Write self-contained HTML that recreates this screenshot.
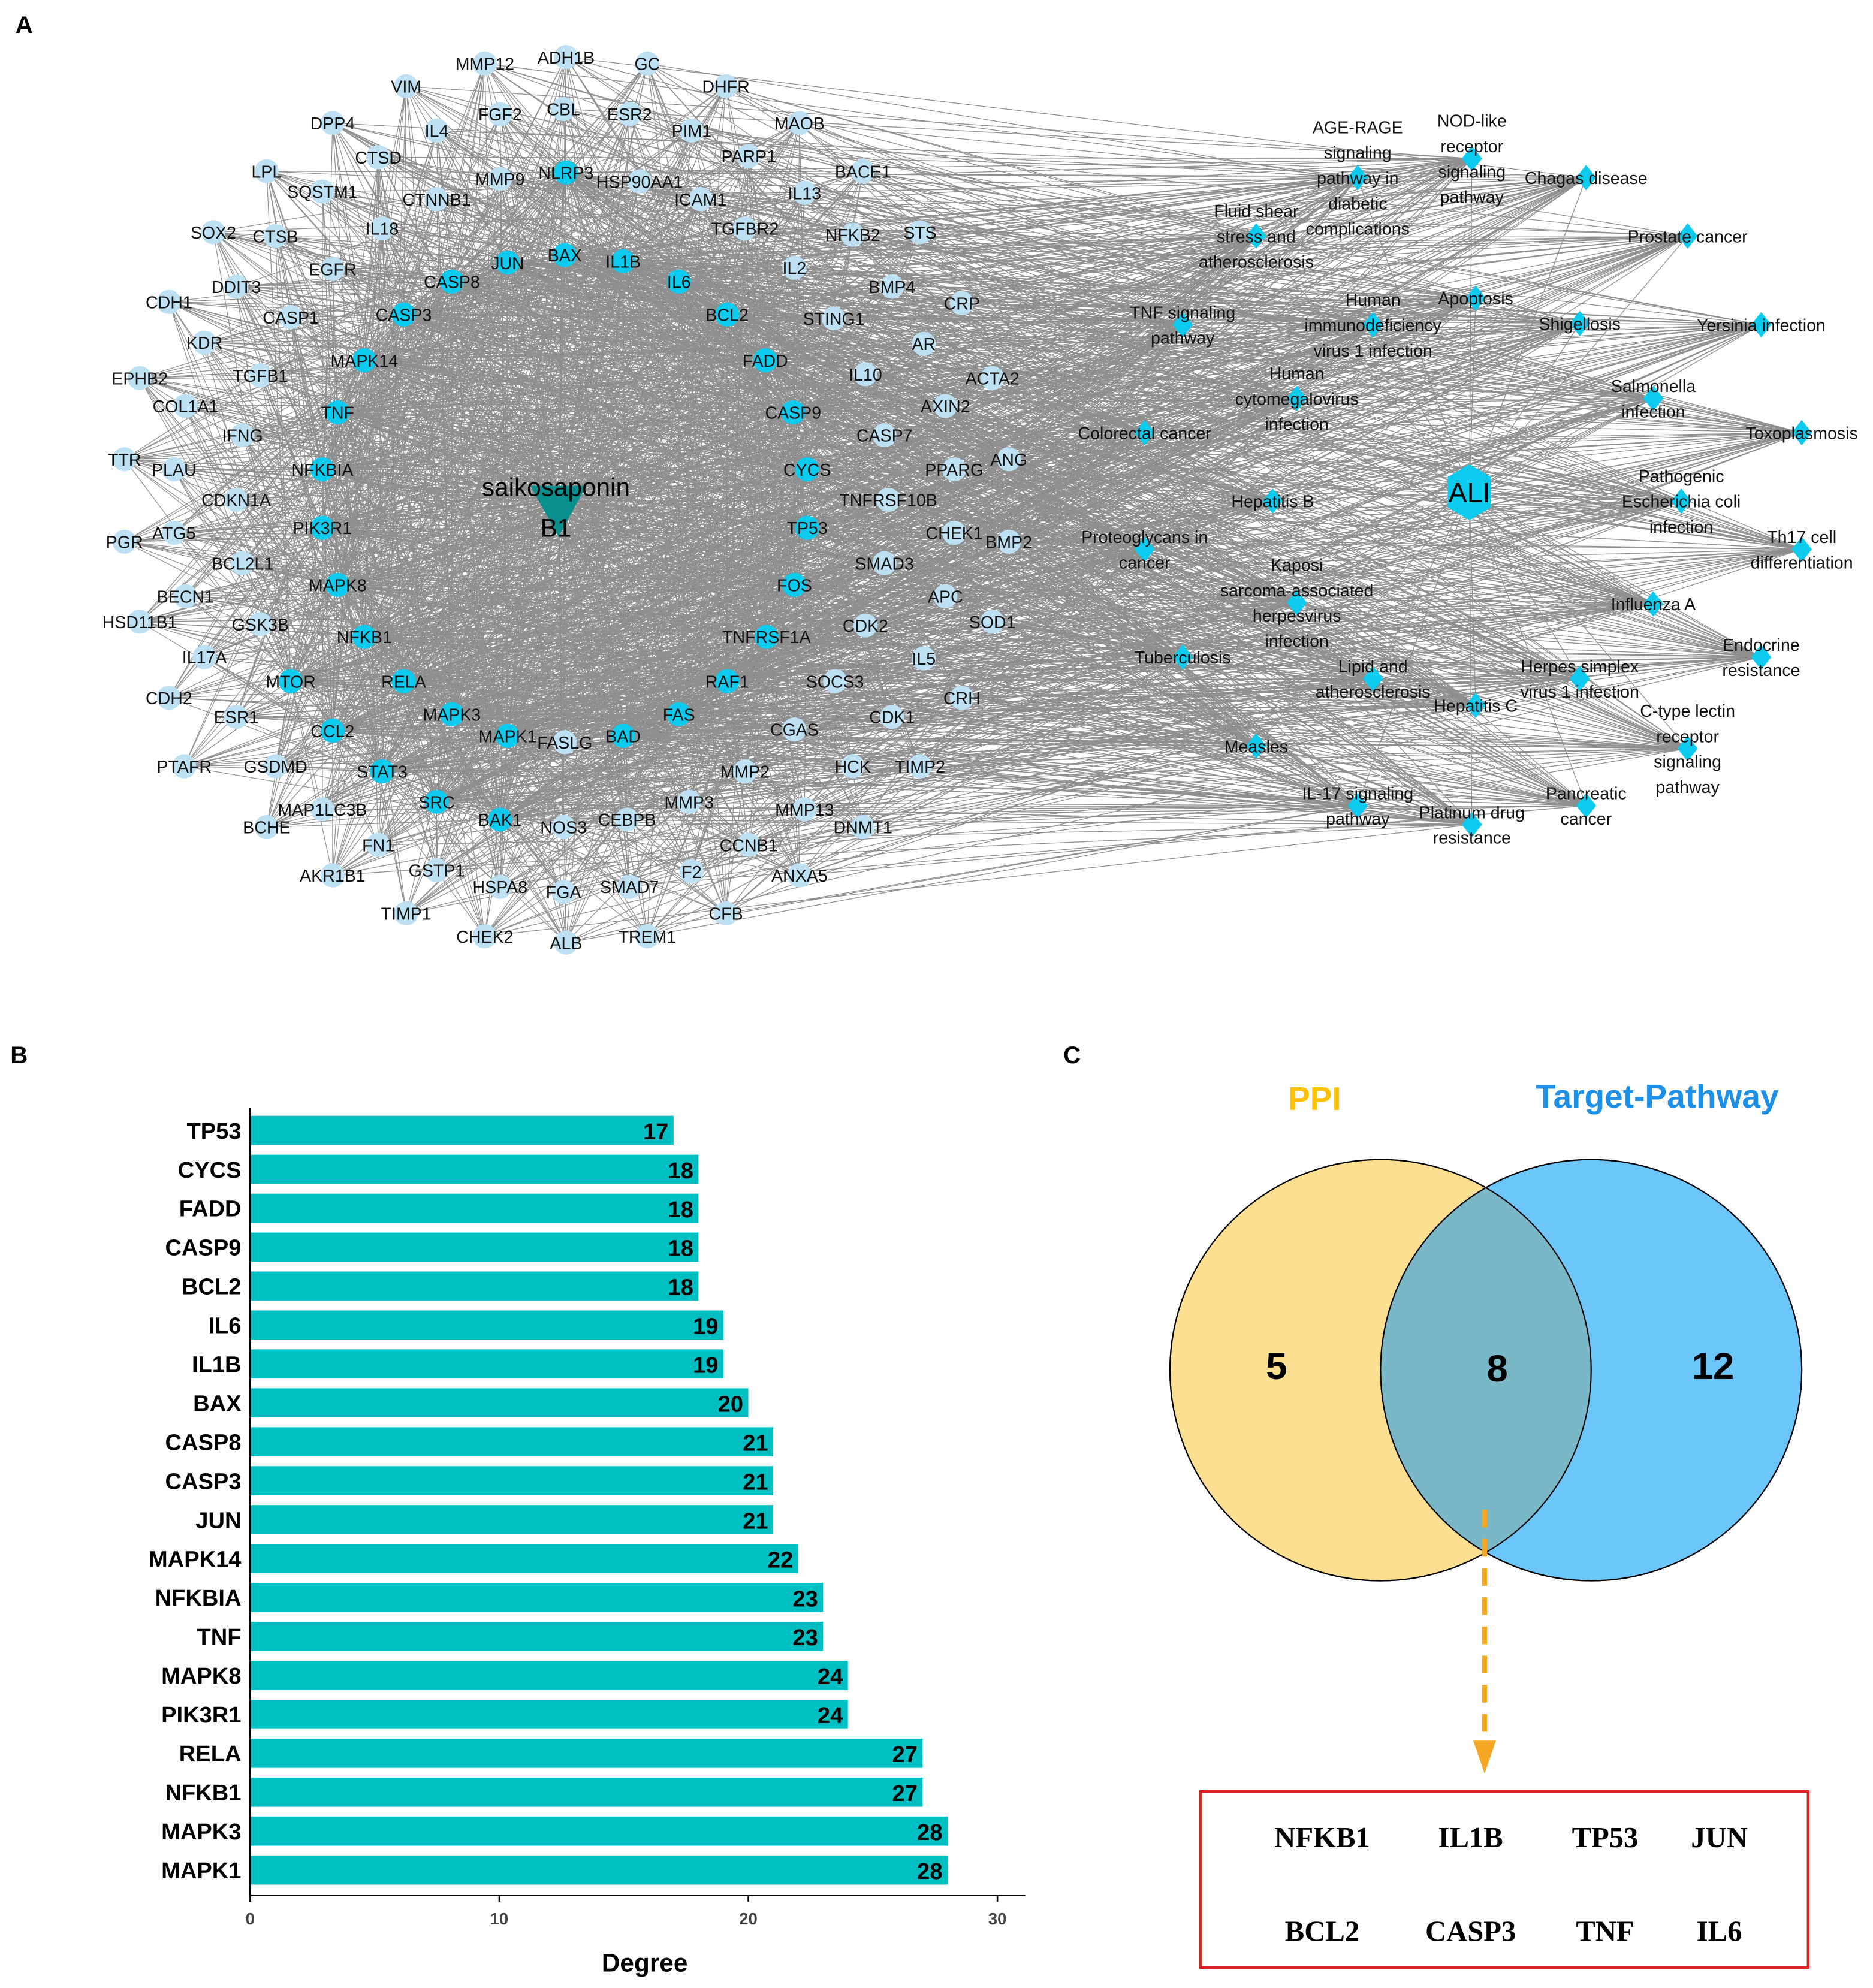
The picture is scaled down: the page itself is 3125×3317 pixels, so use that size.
<!DOCTYPE html>
<html><head><meta charset="utf-8">
<style>
html,body{margin:0;padding:0;background:#fff;}
svg{display:block;font-family:"Liberation Sans",Arial,sans-serif;}
</style></head>
<body>
<svg id="fig" width="3125" height="3317" viewBox="0 0 1476 1567" xmlns="http://www.w3.org/2000/svg">
<rect width="1476" height="1567" fill="#fff"/>
<text x="12" y="26" font-size="19" font-weight="bold">A</text>
<text x="8" y="838" font-size="19" font-weight="bold">B</text>
<text x="838" y="838" font-size="19" font-weight="bold">C</text>
<g id="edges"></g>
<g id="nodes"></g>
<g id="bars"></g>
<g id="venn"></g>
</svg>
<script>
const NS="http://www.w3.org/2000/svg";
function mk(tag,attrs,parent){const e=document.createElementNS(NS,tag);for(const k in attrs)e.setAttribute(k,attrs[k]);parent.appendChild(e);return e;}

const targets=[
["MMP12",382,50,0],["ADH1B",446,45,0],["GC",510,50,0],["VIM",320,68,0],["DHFR",572,68,0],["FGF2",394,90,0],["CBL",444,86,0],["ESR2",496,90,0],["DPP4",262,97,0],["IL4",344,103,0],["PIM1",545,103,0],["MAOB",630,97,0],["PARP1",590,123,0],["LPL",210,135,0],["CTSD",298,124,0],["MMP9",394,141,0],["NLRP3",446,136,1],["HSP90AA1",504,143,0],["BACE1",680,135,0],["SQSTM1",254,151,0],["CTNNB1",344,157,0],["ICAM1",552,157,0],["IL13",634,152,0],["SOX2",168,183,0],["CTSB",217,186,0],["IL18",301,180,0],["TGFBR2",587,180,0],["NFKB2",672,185,0],["STS",725,183,0],["BAX",445,201,1],["JUN",400,207,1],["IL1B",491,206,1],["IL2",626,211,0],["EGFR",262,212,0],["CASP8",356,222,1],["IL6",535,222,1],["BMP4",703,226,0],["DDIT3",186,226,0],["CDH1",133,238,0],["CASP1",229,250,0],["CASP3",318,248,1],["BCL2",573,248,1],["STING1",657,251,0],["CRP",758,239,0],["KDR",161,270,0],["AR",728,271,0],["TGFB1",205,296,0],["MAPK14",287,284,1],["FADD",603,284,1],["EPHB2",110,298,0],["IL10",682,295,0],["ACTA2",782,298,0],["COL1A1",146,320,0],["TNF",266,325,1],["AXIN2",745,320,0],["CASP9",625,325,1],["IFNG",191,343,0],["CASP7",697,343,0],["TTR",98,362,0],["PLAU",137,370,0],["NFKBIA",254,370,1],["CYCS",636,370,1],["PPARG",752,370,0],["ANG",795,362,0],["CDKN1A",186,394,0],["TNFRSF10B",700,394,0],["PIK3R1",254,416,1],["TP53",636,416,1],["PGR",98,427,0],["ATG5",137,420,0],["CHEK1",752,420,0],["BMP2",795,427,0],["BCL2L1",191,444,0],["SMAD3",697,444,0],["MAPK8",266,461,1],["FOS",626,461,1],["BECN1",146,470,0],["APC",745,470,0],["HSD11B1",110,490,0],["GSK3B",205,492,0],["NFKB1",287,502,1],["TNFRSF1A",604,502,1],["CDK2",682,493,0],["SOD1",782,490,0],["IL17A",161,518,0],["IL5",728,519,0],["MTOR",229,537,1],["RELA",318,537,1],["RAF1",573,537,1],["SOCS3",658,537,0],["CDH2",133,550,0],["CRH",758,550,0],["ESR1",186,565,0],["MAPK3",356,563,1],["FAS",535,563,1],["CDK1",703,565,0],["CCL2",262,576,1],["MAPK1",400,580,1],["FASLG",445,585,0],["BAD",491,580,1],["CGAS",626,575,0],["PTAFR",145,604,0],["GSDMD",217,604,0],["STAT3",301,608,1],["HCK",672,604,0],["TIMP2",725,604,0],["MMP2",587,608,0],["MAP1LC3B",254,638,0],["SRC",344,632,1],["MMP3",543,632,0],["MMP13",634,638,0],["BCHE",210,652,0],["BAK1",394,646,1],["NOS3",444,652,0],["CEBPB",494,646,0],["DNMT1",680,652,0],["FN1",298,666,0],["CCNB1",590,666,0],["AKR1B1",262,690,0],["GSTP1",344,686,0],["F2",545,687,0],["ANXA5",630,690,0],["TIMP1",320,720,0],["HSPA8",394,699,0],["FGA",444,703,0],["SMAD7",496,699,0],["CFB",572,720,0],["CHEK2",382,738,0],["ALB",446,743,0],["TREM1",510,738,0]];
const pathways=[
[["AGE-RAGE","signaling","pathway in","diabetic","complications"],1070,140],
[["NOD-like","receptor","signaling","pathway"],1160,125],
[["Chagas disease"],1250,140],
[["Fluid shear","stress and","atherosclerosis"],990,186],
[["Prostate cancer"],1330,186],
[["TNF signaling","pathway"],932,256],
[["Human","immunodeficiency","virus 1 infection"],1082,256],
[["Apoptosis"],1163,235],
[["Shigellosis"],1245,255],
[["Yersinia infection"],1388,256],
[["Human","cytomegalovirus","infection"],1022,314],
[["Salmonella","infection"],1303,314],
[["Toxoplasmosis"],1420,341],
[["Colorectal cancer"],902,341],
[["Pathogenic","Escherichia coli","infection"],1325,395],
[["Hepatitis B"],1003,395],
[["Proteoglycans in","cancer"],902,433],
[["Th17 cell","differentiation"],1420,433],
[["Kaposi","sarcoma-associated","herpesvirus","infection"],1022,475],
[["Influenza A"],1303,476],
[["Endocrine","resistance"],1388,518],
[["Tuberculosis"],932,518],
[["Lipid and","atherosclerosis"],1082,535],
[["Herpes simplex","virus 1 infection"],1245,535],
[["Hepatitis C"],1163,556],
[["C-type lectin","receptor","signaling","pathway"],1330,590],
[["Measles"],990,588],
[["IL-17 signaling","pathway"],1070,635],
[["Pancreatic","cancer"],1250,635],
[["Platinum drug","resistance"],1160,650]];
const drug=[440,395], ali=[1158,388];

const eg=document.getElementById('edges'), ng=document.getElementById('nodes');
const ec="#8e8e8e";
targets.forEach(t=>{const l=mk('line',{x1:drug[0],y1:drug[1],x2:t[1],y2:t[2],stroke:ec,'stroke-width':0.6},eg);});
pathways.forEach(p=>{const l=mk('line',{x1:ali[0],y1:ali[1],x2:p[1],y2:p[2],stroke:ec,'stroke-width':0.6},eg);});
pathways.forEach((p,j)=>{targets.forEach((t,i)=>{const k=(i*7+j*13)%11;const ok=t[3]?k<8:k<2;if(ok){const l=mk('line',{x1:p[1],y1:p[2],x2:t[1],y2:t[2],stroke:ec,'stroke-width':0.6},eg);}});});
targets.forEach((t,i)=>{targets.forEach((u,k)=>{if(k<=i)return;if(!t[3]&&!u[3])return;if(((i*5+k*3)%7)<3){const l=mk('line',{x1:t[1],y1:t[2],x2:u[1],y2:u[2],stroke:ec,'stroke-width':0.55},eg);}});});

targets.forEach(t=>{
 const c=mk('circle',{cx:t[1],cy:t[2],r:9.5,fill:t[3]?"#0ccbef":"#bde0f3"},ng);
 
 
 const tx=mk('text',{x:t[1],y:t[2]+5,'font-size':13.5,'text-anchor':'middle',fill:'#111'},ng);tx.textContent=t[0];
 
 
});
pathways.forEach(p=>{
 const x=p[1],y=p[2];
 const d=mk('polygon',{points:`${x},${y-10} ${x+8},${y} ${x},${y+10} ${x-8},${y}`,fill:"#0ccbef"},ng);
 
 
 const n=p[0].length, y0=y-(n-1)*10+5;
 p[0].forEach((s,i)=>{const tx=mk('text',{x:x,y:y0+i*20,'font-size':13.5,'text-anchor':'middle',fill:'#111'},ng);tx.textContent=s;
  
  });
});
(function(){const x=drug[0],y=drug[1];
 const tr=mk('polygon',{points:`${x-22},${y-12} ${x+22},${y-12} ${x},${y+28}`,fill:"#0a8f8f"},ng);
 
 
 const t1=mk('text',{x:x-2,y:y-4,'font-size':20,'text-anchor':'middle'},ng);t1.textContent='saikosaponin';
 
 
 const t2=mk('text',{x:x-2,y:y+28,'font-size':20,'text-anchor':'middle'},ng);t2.textContent='B1';
 
 
})();
(function(){const x=ali[0],y=ali[1];
 const h=mk('polygon',{points:`${x},${y-22} ${x+17},${y-12} ${x+17},${y+12} ${x},${y+22} ${x-17},${y+12} ${x-17},${y-12}`,fill:"#0ccbef"},ng);
 
 
 const t=mk('text',{x:x,y:y+8,'font-size':22,'text-anchor':'middle'},ng);t.textContent='ALI';
 
 
})();

const barGenes=["TP53","CYCS","FADD","CASP9","BCL2","IL6","IL1B","BAX","CASP8","CASP3","JUN","MAPK14","NFKBIA","TNF","MAPK8","PIK3R1","RELA","NFKB1","MAPK3","MAPK1"];
const barValues=[17,18,18,18,18,19,19,20,21,21,21,22,23,23,24,24,27,27,28,28];
const xTicks=[0,10,20,30];
const bg=document.getElementById('bars');
const X0=197,XS=(786-197)/30,Y0=891,YS=(1474-891)/19,BH=23;
function xs(v){return X0+v*XS;}
function ys(i){return Y0+i*YS;}
barGenes.forEach((g,i)=>{
 const v=barValues[i];
 const r=mk('rect',{x:xs(0),y:ys(i)-BH/2,width:xs(v)-xs(0),height:BH,fill:"#00bfc2"},bg);
 
 
 const lt=mk('text',{x:190,y:ys(i)+6.5,'font-size':18,'font-weight':'bold','text-anchor':'end'},bg);lt.textContent=g;
 
 
 const vt=mk('text',{x:xs(v)-4,y:ys(i)+7,'font-size':18,'font-weight':'bold','text-anchor':'end'},bg);vt.textContent=v;
 
 
});
const yax=mk('line',{x1:X0,y1:873,x2:X0,y2:1494,stroke:'#000','stroke-width':1.3},bg);


const xax=mk('line',{x1:X0,y1:1494,x2:808,y2:1494,stroke:'#000','stroke-width':1.3},bg);


xTicks.forEach(v=>{
 const tk=mk('line',{x1:xs(v),y1:1494,x2:xs(v),y2:1499,stroke:'#000','stroke-width':1.2},bg);
 
 
 const tt=mk('text',{x:xs(v),y:1517,'font-size':13,'font-weight':'bold','text-anchor':'middle',fill:'#444'},bg);tt.textContent=v;
 
 
});
const xt=mk('text',{x:508,y:1554,'font-size':20,'font-weight':'bold','text-anchor':'middle'},bg);xt.textContent='Degree';



const vennCounts=[5,8,12];
const vennGenes=[["NFKB1","IL1B","TP53","JUN"],["BCL2","CASP3","TNF","IL6"]];
const vg=document.getElementById('venn');
const L=[1088,1080],R=[1254,1080],RR=166;
const c1=mk('circle',{cx:L[0],cy:L[1],r:RR,fill:'#fddf92',stroke:'#000','stroke-width':1},vg);


const c2=mk('circle',{cx:R[0],cy:R[1],r:RR,fill:'#6cc6fa',stroke:'#000','stroke-width':1},vg);


const cp=mk('clipPath',{id:'clipL'},vg);mk('circle',{cx:L[0],cy:L[1],r:RR},cp);
const ov=mk('circle',{cx:R[0],cy:R[1],r:RR,fill:'#7bb8c7','clip-path':'url(#clipL)'},vg);


mk('circle',{cx:L[0],cy:L[1],r:RR,fill:'none',stroke:'#000','stroke-width':1},vg);
mk('circle',{cx:R[0],cy:R[1],r:RR,fill:'none',stroke:'#000','stroke-width':1},vg);
const t1=mk('text',{x:1036,y:875,'font-size':26,'font-weight':'bold','text-anchor':'middle',fill:'#ffc000'},vg);t1.textContent='PPI';


const t2=mk('text',{x:1306,y:873,'font-size':26,'font-weight':'bold','text-anchor':'middle',fill:'#1c8fe6'},vg);t2.textContent='Target-Pathway';


[[1006,1087],[1180,1089],[1350,1087]].forEach((p,i)=>{const t=mk('text',{x:p[0],y:p[1],'font-size':30,'font-weight':'bold','text-anchor':'middle'},vg);t.textContent=vennCounts[i];
 
 });
const ar=mk('line',{x1:1170,y1:1190,x2:1170,y2:1375,stroke:'#f5a623','stroke-width':4,'stroke-dasharray':'14,9'},vg);


const ah=mk('polygon',{points:'1161,1372 1179,1372 1170,1398',fill:'#f5a623'},vg);


const box=mk('rect',{x:946,y:1412,width:479,height:139,fill:'none',stroke:'#e02020','stroke-width':2},vg);


const gx=[1042,1159,1265,1355];
vennGenes.forEach((row,ri)=>row.forEach((g,ci)=>{const t=mk('text',{x:gx[ci],y:ri?1530:1456,'font-size':23,'font-weight':'bold','text-anchor':'middle','font-family':'"Liberation Serif",serif'},vg);t.textContent=g;
 
 }));
</script>
</body></html>
